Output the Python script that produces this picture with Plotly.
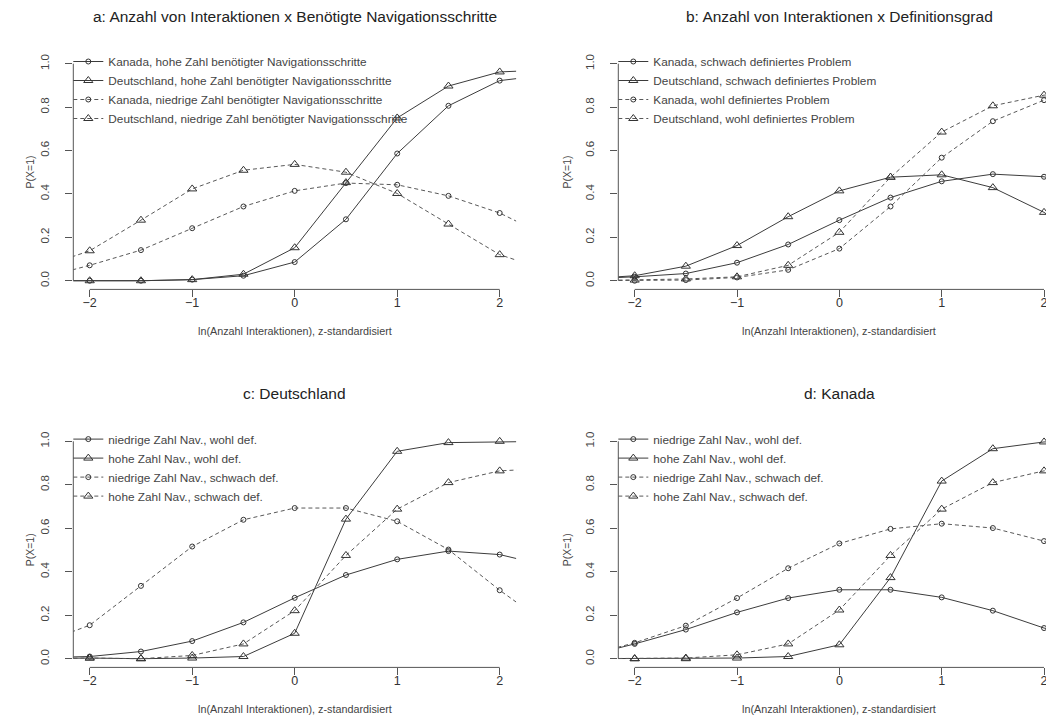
import plotly.graph_objects as go

# ---------------- data ----------------
x_vals = [-2.5, -2, -1.5, -1, -0.5, 0, 0.5, 1, 1.5, 2, 2.5]
x_ticks = [-2, -1, 0, 1, 2]
y_ticks = [0.0, 0.2, 0.4, 0.6, 0.8, 1.0]
y_ticktext = ["0.0", "0.2", "0.4", "0.6", "0.8", "1.0"]

# a: Anzahl von Interaktionen x Benötigte Navigationsschritte
a_ka_hoch = [0, 0, 0, 0.005, 0.023, 0.086, 0.283, 0.586, 0.806, 0.922, 0.95]
a_de_hoch = [0, 0, 0, 0.005, 0.03, 0.152, 0.452, 0.75, 0.897, 0.962, 0.972]
a_ka_niedrig = [0.009, 0.071, 0.141, 0.242, 0.342, 0.414, 0.45, 0.442, 0.391, 0.312, 0.196]
a_de_niedrig = [0.057, 0.138, 0.279, 0.423, 0.509, 0.536, 0.5, 0.402, 0.261, 0.12, 0.042]

# b: Anzahl von Interaktionen x Definitionsgrad
b_ka_schwach = [0.008, 0.018, 0.033, 0.083, 0.167, 0.279, 0.383, 0.458, 0.491, 0.479, 0.423]
b_de_schwach = [0.008, 0.023, 0.067, 0.162, 0.295, 0.414, 0.477, 0.488, 0.429, 0.315, 0.146]
b_ka_wohl = [0, 0, 0.003, 0.015, 0.05, 0.148, 0.342, 0.567, 0.735, 0.832, 0.877]
b_de_wohl = [0, 0.003, 0.008, 0.018, 0.071, 0.223, 0.477, 0.685, 0.806, 0.855, 0.873]

# c: Deutschland
c_nied_wohl = [0.005, 0.01, 0.033, 0.081, 0.167, 0.28, 0.385, 0.457, 0.495, 0.479, 0.423]
c_hoch_wohl = [0, 0.003, 0, 0.003, 0.01, 0.117, 0.642, 0.954, 0.994, 1.0, 1.0]
c_nied_schwach = [0.066, 0.154, 0.335, 0.516, 0.639, 0.693, 0.693, 0.632, 0.502, 0.315, 0.146]
c_hoch_schwach = [0, 0.003, 0, 0.015, 0.068, 0.221, 0.475, 0.688, 0.81, 0.864, 0.876]

# d: Kanada
d_nied_wohl = [0.009, 0.068, 0.134, 0.213, 0.279, 0.317, 0.317, 0.282, 0.221, 0.141, 0.094]
d_hoch_wohl = [0, 0, 0, 0.003, 0.01, 0.064, 0.373, 0.817, 0.966, 0.997, 1.0]
d_nied_schwach = [0.011, 0.073, 0.152, 0.279, 0.416, 0.53, 0.597, 0.621, 0.601, 0.541, 0.419]
d_hoch_schwach = [0, 0, 0.003, 0.018, 0.068, 0.224, 0.475, 0.688, 0.81, 0.864, 0.88]

titles = ["a: Anzahl von Interaktionen x Benötigte Navigationsschritte",
          "b: Anzahl von Interaktionen x Definitionsgrad",
          "c: Deutschland",
          "d: Kanada"]
x_title = "ln(Anzahl Interaktionen), z-standardisiert"
y_title = "P(X=1)"

panels = [
    [("Kanada, hohe Zahl benötigter Navigationsschritte", a_ka_hoch, "solid", "circle-open"),
     ("Deutschland, hohe Zahl benötigter Navigationsschritte", a_de_hoch, "solid", "triangle-up-open"),
     ("Kanada, niedrige Zahl benötigter Navigationsschritte", a_ka_niedrig, "dash", "circle-open"),
     ("Deutschland, niedrige Zahl benötigter Navigationsschritte", a_de_niedrig, "dash", "triangle-up-open")],
    [("Kanada, schwach definiertes Problem", b_ka_schwach, "solid", "circle-open"),
     ("Deutschland, schwach definiertes Problem", b_de_schwach, "solid", "triangle-up-open"),
     ("Kanada, wohl definiertes Problem", b_ka_wohl, "dash", "circle-open"),
     ("Deutschland, wohl definiertes Problem", b_de_wohl, "dash", "triangle-up-open")],
    [("niedrige Zahl Nav., wohl def.", c_nied_wohl, "solid", "circle-open"),
     ("hohe Zahl Nav., wohl def.", c_hoch_wohl, "solid", "triangle-up-open"),
     ("niedrige Zahl Nav., schwach def.", c_nied_schwach, "dash", "circle-open"),
     ("hohe Zahl Nav., schwach def.", c_hoch_schwach, "dash", "triangle-up-open")],
    [("niedrige Zahl Nav., wohl def.", d_nied_wohl, "solid", "circle-open"),
     ("hohe Zahl Nav., wohl def.", d_hoch_wohl, "solid", "triangle-up-open"),
     ("niedrige Zahl Nav., schwach def.", d_nied_schwach, "dash", "circle-open"),
     ("hohe Zahl Nav., schwach def.", d_hoch_schwach, "dash", "triangle-up-open")],
]

# ---------------- layout geometry (pixels) ----------------
W, H = 1054, 717
FONT = "Liberation Sans, Arial, sans-serif"
x_px = [(65.3, 508.1), (610.3, 1052.4), (65.3, 508.1), (610.3, 1052.4)]
y_px = [(47.0, 281.4), (47.0, 281.4), (424.6, 659.4), (424.6, 659.4)]

fig = go.Figure()
layout = dict(width=W, height=H, margin=dict(l=0, r=0, t=0, b=0),
              paper_bgcolor="white", plot_bgcolor="white", showlegend=True,
              font=dict(family=FONT, color="#333"))
annotations = []
shapes = []

for i, series in enumerate(panels):
    k = "" if i == 0 else str(i + 1)
    xa, ya = "x" + k, "y" + k
    leg = "legend" + k
    (xl, xr), (yt, yb) = x_px[i], y_px[i]
    for name, vals, dash, sym in series:
        col = "#3c3c3c" if dash == "solid" else "#585858"
        size = 5 if sym == "circle-open" else 8
        fig.add_trace(go.Scatter(
            x=x_vals, y=vals, name=name, mode="lines+markers",
            line=dict(color=col, width=1, dash="4px,3px" if dash == "dash" else "solid"),
            marker=dict(symbol=sym, size=size, color="#333", line=dict(width=1, color="#333")),
            xaxis=xa, yaxis=ya, legend=leg))
    layout["xaxis" + k] = dict(domain=[xl / W, xr / W], range=[-2.16, 2.16], anchor=ya,
                               tickvals=x_ticks, ticks="outside", ticklen=7, tickcolor="#555",
                               showgrid=False, zeroline=False, showline=False,
                               tickfont=dict(size=12.5, color="#333"), ticklabelstandoff=-5)
    layout["yaxis" + k] = dict(domain=[1 - yb / H, 1 - yt / H], range=[-0.04, 1.04], anchor=xa,
                               tickvals=y_ticks, ticktext=y_ticktext, ticks="outside", ticklen=7,
                               tickcolor="#555", tickangle=-90, showgrid=False, zeroline=False,
                               showline=False, tickfont=dict(size=11.5, color="#444"),
                               ticklabelstandoff=12)
    layout[leg] = dict(x=(xl - 5) / W, y=1 - (yt - 8) / H, xanchor="left", yanchor="top",
                       bgcolor="rgba(0,0,0,0)", borderwidth=0,
                       font=dict(size=11.8, color="#444", family=FONT))
    # R-style axis lines spanning only the tick range
    shapes.append(dict(type="line", xref=xa, yref=ya + " domain", x0=x_ticks[0], x1=x_ticks[-1],
                       y0=0, y1=0, line=dict(color="#555", width=1)))
    shapes.append(dict(type="line", xref=xa + " domain", yref=ya, x0=0, x1=0,
                       y0=y_ticks[0], y1=y_ticks[-1], line=dict(color="#555", width=1)))
    cx = (xl + xr) / 2
    annotations.append(dict(text=titles[i], x=cx / W, y=1 - (yt - 39) / H, xref="paper", yref="paper",
                            showarrow=False, xanchor="center", yanchor="middle",
                            font=dict(size=15.5, color="#222", family=FONT)))
    annotations.append(dict(text=x_title, x=cx / W, y=1 - (yb + 41.5) / H, xref="paper", yref="paper",
                            showarrow=False, xanchor="center", yanchor="middle",
                            font=dict(size=10.8, color="#444", family=FONT)))
    annotations.append(dict(text=y_title, x=(xl - (43 if i % 2 == 0 else 51)) / W,
                            y=1 - (yt + yb) / 2 / H, xref="paper", yref="paper", textangle=-90,
                            showarrow=False, xanchor="center", yanchor="middle",
                            font=dict(size=10.5, color="#444", family=FONT)))

layout["annotations"] = annotations
layout["shapes"] = shapes
fig.update_layout(**layout)
fig.write_html("out.html")
